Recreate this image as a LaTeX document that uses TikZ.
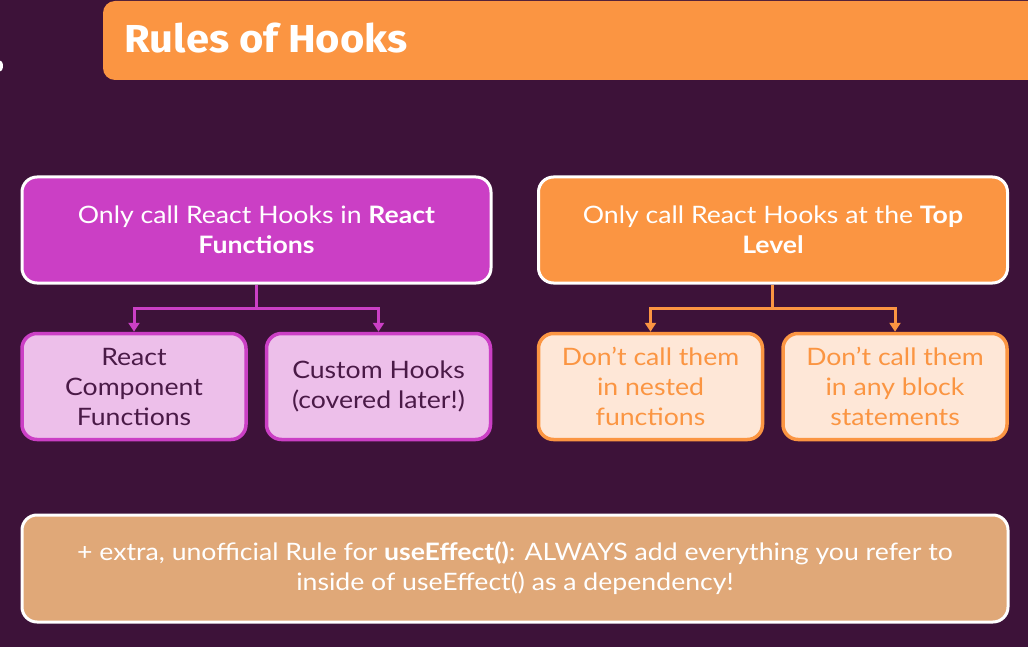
\documentclass[tikz,border=0pt]{standalone}
\usepackage{fontspec}
\setmainfont{Lato}[FakeStretch=1.11]
\newfontfamily\titlefont{Fira Sans}[FakeStretch=1.07]
\usetikzlibrary{arrows.meta}

\definecolor{bgpurple}{HTML}{3D1239}
\definecolor{hookorange}{HTML}{FB9542}
\definecolor{hookmagenta}{HTML}{CB3FC5}
\definecolor{hookpink}{HTML}{EDBFEA}
\definecolor{hookpeach}{HTML}{FEE7D7}
\definecolor{hooktan}{HTML}{E0A878}
\definecolor{pinktext}{HTML}{4A1A47}

\tikzset{
  rulebox/.style={draw=white, line width=3pt, rounded corners=15pt,
    minimum width=469pt, minimum height=106pt, inner sep=0pt,
    align=center, text=white, font=\fontsize{24}{30}\selectfont},
  subbox/.style={line width=3.5pt, rounded corners=15pt,
    minimum width=224pt, minimum height=106pt, inner sep=0pt,
    align=center, font=\fontsize{24}{30}\selectfont},
  pinkbox/.style={subbox, draw=hookmagenta, fill=hookpink, text=pinktext},
  peachbox/.style={subbox, draw=hookorange, fill=hookpeach, text=hookorange},
  branch/.style={line width=3pt, -{Triangle[length=9pt,width=11pt]}},
}

\begin{document}
\begin{tikzpicture}[x=1pt,y=-1pt]
  % page background
  \fill[bgpurple] (0,0) rectangle (1028,647);
  \useasboundingbox (0,0) rectangle (1028,647);

  % small white mark at the left edge
  \begin{scope}
    \clip (0,0) rectangle (1028,647);
    \fill[white] (-1,66) ellipse [x radius=4, y radius=6];
  \end{scope}

  % title bar running off the right edge
  \begin{scope}
    \clip (0,0) rectangle (1028,647);
    \fill[hookorange, rounded corners=12pt] (103,1) rectangle (1045,80);
  \end{scope}
  \node[anchor=base west, inner sep=0pt, text=white,
        font=\titlefont\bfseries\fontsize{39}{40}\selectfont] (title)
        at (124,53) {Rules of Hooks};

  % the two rules
  \node[rulebox, fill=hookmagenta] (fnrule) at (256.5,230)
    {Only call React Hooks in \textbf{React}\\\textbf{Functions}};
  \node[rulebox, fill=hookorange] (toprule) at (773,230)
    {Only call React Hooks at the \textbf{Top}\\\textbf{Level}};

  % what each rule means
  \node[pinkbox] (compfn) at (134,386.5) {React\\Component\\Functions};
  \node[pinkbox] (customhk) at (378.5,386.5) {Custom Hooks\\(covered later!)};
  \node[peachbox] (nested) at (650.5,386.5) {Don’t call them\\in nested\\functions};
  \node[peachbox] (block) at (895,386.5) {Don’t call them\\in any block\\statements};

  % branching connectors
  \coordinate (fnjoin) at (256.5,308);
  \coordinate (topjoin) at (772,308);
  \draw[branch, hookmagenta] (fnrule.south) -- (fnjoin) -| (compfn.north);
  \draw[branch, hookmagenta] (fnrule.south) -- (fnjoin) -| (customhk.north);
  \draw[branch, hookorange] (toprule.south -| topjoin) -- (topjoin) -| (nested.north);
  \draw[branch, hookorange] (toprule.south -| topjoin) -- (topjoin) -| (block.north);

  % extra rule
  \node[draw=white, line width=3pt, rounded corners=15pt, fill=hooktan,
        minimum width=986pt, minimum height=107pt, inner sep=0pt,
        align=center, text=white, font=\fontsize{24}{30}\selectfont] (extra)
        at (515,568.5)
    {+ extra, unofficial Rule for \textbf{useEffect()}: ALWAYS add everything you refer to\\
     inside of useEffect() as a dependency!};
\end{tikzpicture}
\end{document}
